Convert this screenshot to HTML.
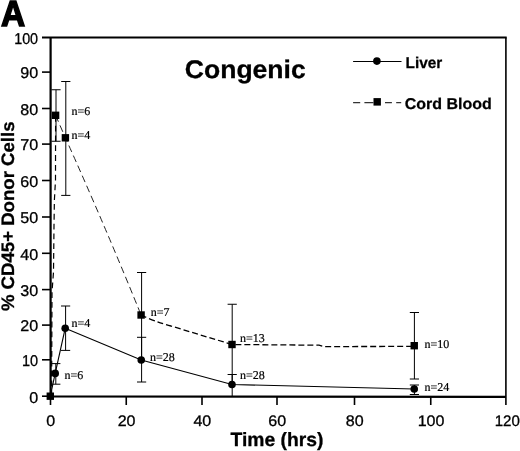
<!DOCTYPE html>
<html><head><meta charset="utf-8"><title>Congenic</title>
<style>
html,body{margin:0;padding:0;background:#fff;}
svg{display:block;}
text{font-family:"Liberation Sans",sans-serif;fill:#000;text-rendering:geometricPrecision;}
.n{font-family:"Liberation Serif",serif;font-size:12px;stroke:#000;stroke-width:0.2px;}
.t{font-size:15.6px;stroke:#000;stroke-width:0.3px;}
.b{font-weight:bold;}
</style></head><body>
<svg width="520" height="451" viewBox="0 0 520 451">
<rect width="520" height="451" fill="#fff"/>

<text class="b" transform="translate(0.9,25.85) scale(0.925,1)" font-size="36.2" stroke="#000" stroke-width="1.5" stroke-linejoin="miter">A</text>
<path d="M42.0,37.5 H506.7" fill="none" stroke="#000" stroke-width="2"/>
<path d="M505.9,37.5 V405.0" fill="none" stroke="#000" stroke-width="1.6"/>
<path d="M50.6,37.5 V396.3 L505.9,396.9" fill="none" stroke="#000" stroke-width="2.2"/>
<line x1="42.0" y1="396.2" x2="50.6" y2="396.2" stroke="#000" stroke-width="1.6"/>
<text class="t" text-anchor="end" transform="translate(38.1,402.50) scale(1.03,1)">0</text>
<line x1="42.0" y1="359.8" x2="50.6" y2="359.8" stroke="#000" stroke-width="1.6"/>
<text class="t" text-anchor="end" transform="translate(38.1,366.10) scale(0.93,1)">10</text>
<line x1="42.0" y1="325.1" x2="50.6" y2="325.1" stroke="#000" stroke-width="1.6"/>
<text class="t" text-anchor="end" transform="translate(38.1,331.40) scale(1.03,1)">20</text>
<line x1="42.0" y1="289.6" x2="50.6" y2="289.6" stroke="#000" stroke-width="1.6"/>
<text class="t" text-anchor="end" transform="translate(38.1,295.90) scale(1.03,1)">30</text>
<line x1="42.0" y1="253.3" x2="50.6" y2="253.3" stroke="#000" stroke-width="1.6"/>
<text class="t" text-anchor="end" transform="translate(38.1,259.60) scale(1.03,1)">40</text>
<line x1="42.0" y1="217.0" x2="50.6" y2="217.0" stroke="#000" stroke-width="1.6"/>
<text class="t" text-anchor="end" transform="translate(38.1,223.30) scale(1.03,1)">50</text>
<line x1="42.0" y1="180.5" x2="50.6" y2="180.5" stroke="#000" stroke-width="1.6"/>
<text class="t" text-anchor="end" transform="translate(38.1,186.80) scale(1.03,1)">60</text>
<line x1="42.0" y1="144.1" x2="50.6" y2="144.1" stroke="#000" stroke-width="1.6"/>
<text class="t" text-anchor="end" transform="translate(38.1,150.40) scale(1.03,1)">70</text>
<line x1="42.0" y1="108.5" x2="50.6" y2="108.5" stroke="#000" stroke-width="1.6"/>
<text class="t" text-anchor="end" transform="translate(38.1,114.80) scale(1.03,1)">80</text>
<line x1="42.0" y1="72.1" x2="50.6" y2="72.1" stroke="#000" stroke-width="1.6"/>
<text class="t" text-anchor="end" transform="translate(38.1,78.40) scale(1.03,1)">90</text>
<text class="t" text-anchor="end" transform="translate(38.1,43.60) scale(0.92,1)">100</text>
<line x1="50.5" y1="396.5" x2="50.5" y2="405.0" stroke="#000" stroke-width="1.6"/>
<text class="t" style="font-size:15.3px" text-anchor="middle" transform="translate(50.80,426.3) scale(1.05,1)">0</text>
<line x1="126.25" y1="396.5" x2="126.25" y2="405.0" stroke="#000" stroke-width="1.6"/>
<text class="t" style="font-size:15.3px" text-anchor="middle" transform="translate(126.55,426.3) scale(1.05,1)">20</text>
<line x1="202" y1="396.5" x2="202" y2="405.0" stroke="#000" stroke-width="1.6"/>
<text class="t" style="font-size:15.3px" text-anchor="middle" transform="translate(202.30,426.3) scale(1.05,1)">40</text>
<line x1="277" y1="396.5" x2="277" y2="405.0" stroke="#000" stroke-width="1.6"/>
<text class="t" style="font-size:15.3px" text-anchor="middle" transform="translate(277.30,426.3) scale(1.05,1)">60</text>
<line x1="354.5" y1="396.5" x2="354.5" y2="405.0" stroke="#000" stroke-width="1.6"/>
<text class="t" style="font-size:15.3px" text-anchor="middle" transform="translate(354.80,426.3) scale(1.05,1)">80</text>
<line x1="430.75" y1="396.5" x2="430.75" y2="405.0" stroke="#000" stroke-width="1.6"/>
<text class="t" style="font-size:15.3px" text-anchor="middle" transform="translate(431.05,426.3) scale(1.05,1)">100</text>
<text class="t" style="font-size:15.3px" text-anchor="middle" transform="translate(507.30,426.3) scale(0.985,1)">120</text>
<text class="b" font-size="19.3" text-anchor="middle" x="276.9" y="446.1" stroke="#000" stroke-width="0.3">Time (hrs)</text>
<text class="b" font-size="18.6" text-anchor="middle" transform="translate(14.0,216.3) rotate(-90) scale(1,0.97)" stroke="#000" stroke-width="0.3">% CD45+ Donor Cells</text>
<text class="b" font-size="25.4" transform="translate(184.8,78) scale(1.045,1)" stroke="#000" stroke-width="0.3">Congenic</text>
<path d="M56,141.25 V89.75 M51.40,89.75 h9.2 M51.40,141.25 h9.2" fill="none" stroke="#000" stroke-width="1"/>
<path d="M65.8,195.4 V81.5 M61.20,81.5 h9.2 M61.20,195.4 h9.2" fill="none" stroke="#000" stroke-width="1"/>
<path d="M141.6,358 V272.5 M137.00,272.5 h9.2" fill="none" stroke="#000" stroke-width="1"/>
<path d="M232.2,385 V304.25 M227.60,304.25 h9.2" fill="none" stroke="#000" stroke-width="1"/>
<path d="M414.4,379 V312.5 M409.80,312.5 h9.2 M409.80,379 h9.2" fill="none" stroke="#000" stroke-width="1"/>
<path d="M55.8,384.2 V363.6 M51.20,363.6 h9.2 M51.20,384.2 h9.2" fill="none" stroke="#000" stroke-width="1"/>
<path d="M65.6,350.4 V306 M61.00,306 h9.2 M61.00,350.4 h9.2" fill="none" stroke="#000" stroke-width="1"/>
<path d="M141.6,382 V337.3 M137.00,337.3 h9.2 M137.00,382 h9.2" fill="none" stroke="#000" stroke-width="1"/>
<path d="M232.2,396 V374.5 M227.60,374.5 h9.2" fill="none" stroke="#000" stroke-width="1"/>
<path d="M414.4,394.5 V385 M409.80,385 h9.2 M409.80,394.5 h9.2" fill="none" stroke="#000" stroke-width="1"/>
<polyline points="50.3,396.2 55.2,373.4 65.2,328.3 141.25,360 232,384.5 414.25,389" fill="none" stroke="#000" stroke-width="1.1"/>
<polyline points="51.6,396 52.0,292 53.5,272 54,226 54.4,200 55.5,180 55.6,118" fill="none" stroke="#000" stroke-width="1.2" stroke-dasharray="5.8 4"/>
<path d="M55.6,115.3 L65.4,137.8 Q104.8,225.5 141.1,315" fill="none" stroke="#222" stroke-width="1" stroke-dasharray="7 4"/>
<path d="M141.1,315 Q153,321 171,326 L232,344.5 L319,345.2 L324,346.6 L414.25,346.4" fill="none" stroke="#000" stroke-width="1.3" stroke-dasharray="6 3"/>
<rect x="46.60" y="392.50" width="7.4" height="7.4" fill="#000"/>
<rect x="51.90" y="111.60" width="7.4" height="7.4" fill="#000"/>
<rect x="61.70" y="134.10" width="7.4" height="7.4" fill="#000"/>
<rect x="137.40" y="311.30" width="7.4" height="7.4" fill="#000"/>
<rect x="228.30" y="340.80" width="7.4" height="7.4" fill="#000"/>
<rect x="410.55" y="342.00" width="7.4" height="7.4" fill="#000"/>
<circle cx="55.2" cy="373.4" r="3.8" fill="#000"/>
<circle cx="65.2" cy="328.3" r="3.8" fill="#000"/>
<circle cx="141.25" cy="360" r="3.8" fill="#000"/>
<circle cx="232" cy="384.5" r="3.8" fill="#000"/>
<circle cx="414.25" cy="389" r="3.8" fill="#000"/>
<text class="n" x="71.5" y="114.9">n=6</text>
<text class="n" x="71.5" y="139.4">n=4</text>
<text class="n" x="71.5" y="326.9">n=4</text>
<text class="n" x="64.5" y="378.9">n=6</text>
<text class="n" x="150.8" y="315.6">n=7</text>
<text class="n" x="150" y="360.5">n=28</text>
<text class="n" x="240" y="342">n=13</text>
<text class="n" x="240" y="379.2">n=28</text>
<text class="n" x="424.5" y="348">n=10</text>
<text class="n" x="424.5" y="391.2">n=24</text>
<line x1="353.1" y1="61.5" x2="401.5" y2="61.5" stroke="#000" stroke-width="1.2"/>
<circle cx="376.9" cy="61.1" r="3.8" fill="#000"/>
<path d="M353.1,102.6 h7.1 M364.4,102.6 h9 M385,102.6 h6.9 M396.2,102.6 h5" stroke="#333" stroke-width="1.4" fill="none"/>
<rect x="373.5" y="98.1" width="7.4" height="7.5" fill="#000"/>
<text class="b" font-size="15.6" transform="translate(405.5,67.7) scale(0.985,1)" stroke="#000" stroke-width="0.25">Liver</text>
<text class="b" font-size="15.6" transform="translate(404.8,108.7) scale(1.025,1)" stroke="#000" stroke-width="0.25">Cord Blood</text>
</svg></body></html>
